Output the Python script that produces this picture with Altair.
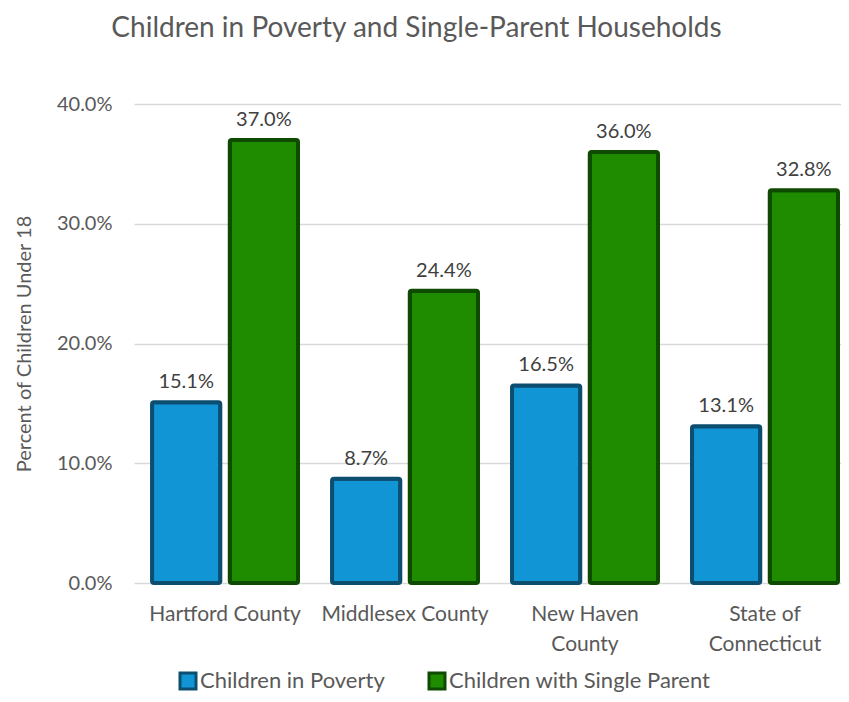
import altair as alt
import pandas as pd

categories = ["Hartford County", "Middlesex County", "New Haven County", "State of Connecticut"]
series = ["Children in Poverty", "Children with Single Parent"]
poverty = [0.151, 0.087, 0.165, 0.131]
single_parent = [0.370, 0.244, 0.360, 0.328]

fills = ["#1195d4", "#1f8c00"]
strokes = ["#0c4e70", "#0e4a00"]

rows = []
for i, c in enumerate(categories):
    rows.append({"region": c, "series": series[0], "value": poverty[i]})
    rows.append({"region": c, "series": series[1], "value": single_parent[i]})
df = pd.DataFrame(rows)

font = "Lato"
grey = "#595959"

label_expr = (
    "datum.value == 'New Haven County' ? ['New Haven', 'County'] : "
    "datum.value == 'State of Connecticut' ? ['State of', 'Connecticut'] : datum.value"
)

base = alt.Chart(df).encode(
    x=alt.X(
        "region:N",
        sort=categories,
        title=None,
        scale=alt.Scale(paddingInner=0.189, paddingOuter=0.0585, align=0.857),
        axis=alt.Axis(
            labelExpr=label_expr,
            labelAngle=0,
            labelFontSize=21,
            labelColor=grey,
            labelFont=font,
            labelPadding=20,
            labelLineHeight=30,
            ticks=False,
            domain=False,
            grid=False,
        ),
    ),
    xOffset=alt.XOffset(
        "series:N", sort=series, scale=alt.Scale(paddingInner=0.122, paddingOuter=0)
    ),
    y=alt.Y(
        "value:Q",
        scale=alt.Scale(domain=[0, 0.4], nice=False),
        axis=alt.Axis(
            format=".1%",
            values=[0, 0.1, 0.2, 0.3, 0.4],
            title="Percent of Children Under 18",
            titleFont=font,
            titleFontSize=20,
            titleFontWeight="normal",
            titleColor=grey,
            titlePadding=22,
            labelFont=font,
            labelFontSize=20,
            labelColor=grey,
            labelPadding=22,
            ticks=False,
            domain=False,
            grid=True,
            gridColor="#d9d9d9",
            gridWidth=1.3,
        ),
    ),
)

bars = base.mark_bar(strokeWidth=4, cornerRadius=2).encode(
    color=alt.Color(
        "series:N",
        sort=series,
        scale=alt.Scale(domain=series, range=fills),
        legend=alt.Legend(title=None),
    ),
    stroke=alt.Stroke(
        "series:N",
        sort=series,
        scale=alt.Scale(domain=series, range=strokes),
        legend=alt.Legend(title=None),
    ),
)

labels = base.mark_text(
    dy=-10, baseline="bottom", fontSize=20, color="#404040", font=font
).encode(text=alt.Text("value:Q", format=".1%"))

chart = (
    alt.layer(bars, labels)
    .properties(
        width=707,
        height=479,
        autosize=alt.AutoSizeParams(type="none"),
        padding={"left": 126, "top": 96, "right": 0, "bottom": 111},
        title=alt.Title(
            "Children in Poverty and Single-Parent Households",
            font=font,
            fontSize=28,
            fontWeight="normal",
            color=grey,
            anchor="middle",
            frame="group",
            dx=-71,
            offset=51,
        ),
    )
    .configure_view(stroke=None)
    .configure_legend(
        orient="none",
        legendX=43,
        legendY=566,
        direction="horizontal",
        symbolType="square",
        symbolSize=256,
        symbolStrokeWidth=3,
        labelFont=font,
        labelFontSize=22,
        labelColor=grey,
        labelOffset=1,
        labelLimit=0,
        columnPadding=38,
    )
)

chart.save("out.html", embed_options={"renderer": "svg", "actions": False})
